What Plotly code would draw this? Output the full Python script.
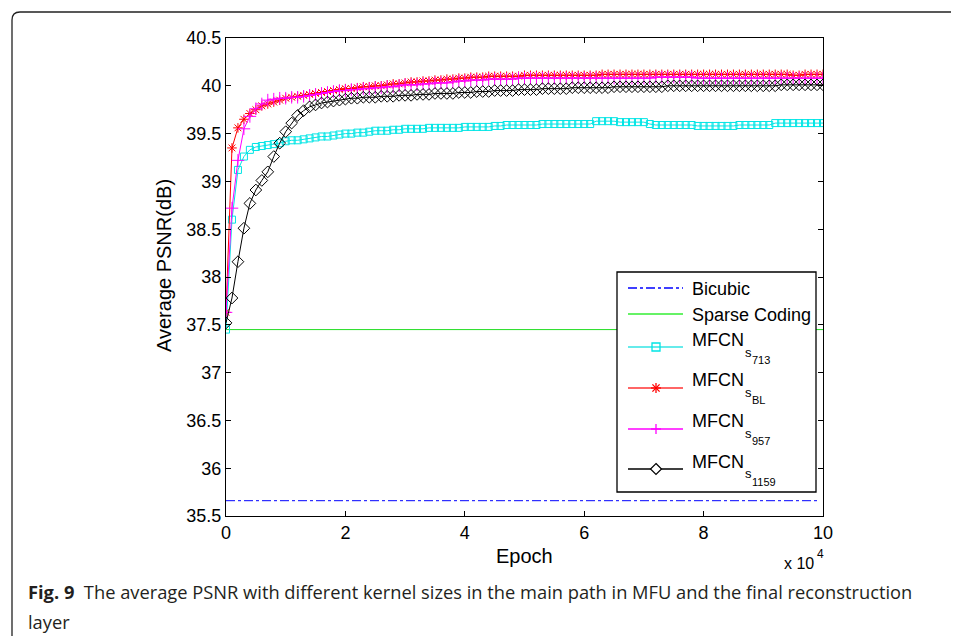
import plotly.graph_objects as go

# ---------------- data ----------------
epochs = list(range(0, 100001, 1000))

bicubic_x = [0, 99000]
bicubic_y = [35.66, 35.66]

sparse_x = [0, 100000]
sparse_y = [37.45, 37.45]

mfcn_713 = [37.45, 38.60, 39.12, 39.26, 39.33, 39.36, 39.37, 39.38, 39.39, 39.40, 39.42,
            39.43, 39.43, 39.44, 39.45, 39.46, 39.47, 39.47, 39.48, 39.49, 39.50,
            39.50, 39.51, 39.51, 39.52, 39.53, 39.53, 39.53, 39.54, 39.54, 39.55,
            39.55, 39.55, 39.55, 39.56, 39.56, 39.56, 39.56, 39.56, 39.56, 39.57,
            39.57, 39.57, 39.57, 39.57, 39.58, 39.58, 39.59, 39.59, 39.59, 39.59,
            39.59, 39.59, 39.60, 39.60, 39.60, 39.60, 39.60, 39.60, 39.60, 39.60,
            39.60, 39.63, 39.63, 39.63, 39.63, 39.62, 39.62, 39.62, 39.62, 39.62,
            39.60, 39.59, 39.59, 39.59, 39.59, 39.59, 39.59, 39.59, 39.58, 39.58,
            39.58, 39.58, 39.58, 39.58, 39.58, 39.59, 39.59, 39.59, 39.59, 39.59,
            39.59, 39.61, 39.61, 39.61, 39.61, 39.61, 39.61, 39.61, 39.61, 39.61]

mfcn_bl = [37.63, 39.35, 39.56, 39.65, 39.71, 39.75, 39.79, 39.81, 39.83, 39.85, 39.87,
           39.88, 39.89, 39.90, 39.91, 39.92, 39.93, 39.94, 39.95, 39.96, 39.97,
           39.97, 39.98, 39.99, 39.99, 40.00, 40.00, 40.01, 40.02, 40.02, 40.03,
           40.04, 40.04, 40.05, 40.05, 40.06, 40.06, 40.07, 40.07, 40.08, 40.08,
           40.09, 40.09, 40.09, 40.10, 40.10, 40.10, 40.10, 40.10, 40.10, 40.11,
           40.11, 40.11, 40.11, 40.11, 40.11, 40.11, 40.11, 40.11, 40.11, 40.11,
           40.11, 40.11, 40.12, 40.12, 40.12, 40.12, 40.12, 40.12, 40.12, 40.12,
           40.12, 40.12, 40.12, 40.12, 40.12, 40.12, 40.12, 40.12, 40.12, 40.12,
           40.12, 40.12, 40.12, 40.12, 40.12, 40.12, 40.12, 40.12, 40.12, 40.12,
           40.12, 40.12, 40.12, 40.12, 40.11, 40.11, 40.12, 40.12, 40.12, 40.12]

mfcn_957 = [37.63, 38.72, 39.22, 39.55, 39.68, 39.76, 39.81, 39.85, 39.86, 39.87, 39.87,
            39.88, 39.88, 39.89, 39.90, 39.91, 39.92, 39.93, 39.94, 39.95, 39.95,
            39.96, 39.96, 39.97, 39.97, 39.98, 39.98, 39.99, 39.99, 40.00, 40.01,
            40.01, 40.01, 40.02, 40.02, 40.03, 40.03, 40.03, 40.04, 40.05, 40.05,
            40.06, 40.06, 40.06, 40.07, 40.07, 40.07, 40.07, 40.07, 40.08, 40.08,
            40.08, 40.08, 40.08, 40.08, 40.08, 40.08, 40.08, 40.08, 40.08, 40.08,
            40.08, 40.08, 40.08, 40.08, 40.08, 40.08, 40.08, 40.08, 40.08, 40.08,
            40.08, 40.09, 40.09, 40.09, 40.09, 40.09, 40.09, 40.09, 40.08, 40.08,
            40.08, 40.08, 40.08, 40.08, 40.08, 40.08, 40.08, 40.08, 40.08, 40.08,
            40.08, 40.08, 40.08, 40.08, 40.08, 40.08, 40.08, 40.08, 40.08, 40.08]

mfcn_1159 = [37.52, 37.78, 38.16, 38.51, 38.77, 38.91, 39.01, 39.10, 39.26, 39.40, 39.52,
             39.61, 39.69, 39.74, 39.78, 39.80, 39.82, 39.83, 39.84, 39.85, 39.86,
             39.87, 39.87, 39.88, 39.88, 39.88, 39.89, 39.89, 39.89, 39.90, 39.90,
             39.90, 39.91, 39.91, 39.91, 39.92, 39.92, 39.92, 39.92, 39.93, 39.93,
             39.93, 39.94, 39.94, 39.94, 39.95, 39.95, 39.95, 39.95, 39.96, 39.96,
             39.96, 39.96, 39.97, 39.97, 39.97, 39.97, 39.97, 39.98, 39.98, 39.98,
             39.98, 39.98, 39.98, 39.98, 39.99, 39.99, 39.99, 39.99, 39.99, 39.99,
             39.99, 39.99, 39.99, 40.00, 40.00, 40.00, 40.00, 40.00, 40.00, 40.00,
             40.00, 40.00, 40.00, 40.00, 40.00, 40.00, 40.00, 40.00, 40.00, 40.00,
             40.00, 40.00, 40.01, 40.01, 40.01, 40.01, 40.01, 40.01, 40.01, 40.01]

x_tickvals = [0, 20000, 40000, 60000, 80000, 100000]
x_ticktext = ["0", "2", "4", "6", "8", "10"]
y_tickvals = [35.5, 36, 36.5, 37, 37.5, 38, 38.5, 39, 39.5, 40, 40.5]
y_ticktext = ["35.5", "36", "36.5", "37", "37.5", "38", "38.5", "39", "39.5", "40", "40.5"]

# ---------------- figure ----------------
W, H = 959, 636
OFF = 8  # page body margin of the html page
FONT = "Liberation Sans, Arial, Helvetica, sans-serif"


def px(x):
    return (x - OFF) / W


def py(y):
    return 1 - (y - OFF) / H


fig = go.Figure()

fig.add_trace(go.Scatter(x=bicubic_x, y=bicubic_y, mode="lines",
                         line=dict(color="#0000ff", width=1, dash="dashdot")))
fig.add_trace(go.Scatter(x=sparse_x, y=sparse_y, mode="lines",
                         line=dict(color="#22dd22", width=1)))
fig.add_trace(go.Scatter(x=epochs, y=mfcn_713, mode="lines+markers",
                         line=dict(color="#00e5e5", width=1),
                         marker=dict(symbol="square-open", size=7, color="#00e5e5",
                                     line=dict(width=1, color="#00e5e5"))))
fig.add_trace(go.Scatter(x=epochs, y=mfcn_bl, mode="lines+markers",
                         line=dict(color="#ff0000", width=1),
                         marker=dict(symbol="asterisk-open", size=8, color="#ff0000",
                                     line=dict(width=1, color="#ff0000"))))
fig.add_trace(go.Scatter(x=epochs, y=mfcn_957, mode="lines+markers",
                         line=dict(color="#ff00ff", width=1),
                         marker=dict(symbol="cross-thin-open", size=9, color="#ff00ff",
                                     line=dict(width=1, color="#ff00ff"))))
fig.add_trace(go.Scatter(x=epochs, y=mfcn_1159, mode="lines+markers",
                         line=dict(color="#000000", width=1),
                         marker=dict(symbol="diamond-open", size=9, color="#000000",
                                     line=dict(width=1, color="#000000"))))

axis_common = dict(showline=True, linecolor="black", linewidth=1.3, mirror="ticks",
                   ticks="inside", ticklen=5, tickwidth=1, tickcolor="black",
                   showgrid=False, zeroline=False, automargin=False,
                   tickfont=dict(family=FONT, size=18, color="black"))

fig.update_layout(
    template="none",
    width=W, height=H,
    margin=dict(l=0, r=0, t=0, b=0, pad=0, autoexpand=False),
    paper_bgcolor="white", plot_bgcolor="white",
    showlegend=False,
    xaxis=dict(domain=[px(226), px(823)], range=[0, 100000],
               tickvals=x_tickvals, ticktext=x_ticktext, **axis_common),
    yaxis=dict(domain=[py(516), py(38)], range=[35.5, 40.5],
               tickvals=y_tickvals, ticktext=y_ticktext, **axis_common),
)

shapes = []
# outer rounded frame (only top-left corner visible)
r = 8
fx, fy = 12, 12
shapes.append(dict(type="path", xref="paper", yref="paper",
                   path=(f"M {px(fx)},{py(H + 20)} L {px(fx)},{py(fy + r)} "
                         f"Q {px(fx)},{py(fy)} {px(fx + r)},{py(fy)} L {px(W + 20)},{py(fy)}"),
                   line=dict(color="#222222", width=1.3)))

# legend box
lx0, ly0, lx1, ly1 = 617, 272, 816, 492
shapes.append(dict(type="rect", xref="paper", yref="paper", layer="above",
                   x0=px(lx0), x1=px(lx1), y0=py(ly1), y1=py(ly0),
                   fillcolor="white", line=dict(color="black", width=1.3)))

rows = [
    ("#0000ff", "dashdot", 288, None),
    ("#33ee33", "solid", 314, None),
    ("#33e5e5", "solid", 347, "square"),
    ("#ff3333", "solid", 388, "asterisk"),
    ("#ff00ff", "solid", 429, "plus"),
    ("#000000", "solid", 469, "diamond"),
]
sx0, sx1, mx = 628, 683, 656
for color, dash, yy, mk in rows:
    shapes.append(dict(type="line", xref="paper", yref="paper", layer="above",
                       x0=px(sx0), x1=px(sx1), y0=py(yy), y1=py(yy),
                       line=dict(color=color, width=1.3, dash=dash)))
    if mk == "square":
        s = 4
        shapes.append(dict(type="rect", xref="paper", yref="paper", layer="above",
                           x0=px(mx - s), x1=px(mx + s), y0=py(yy + s), y1=py(yy - s),
                           line=dict(color="#00e5e5", width=1.3)))
    elif mk == "asterisk":
        s = 5
        for dx, dy in [(s, 0), (0, s), (3.6, 3.6), (3.6, -3.6)]:
            shapes.append(dict(type="line", xref="paper", yref="paper", layer="above",
                               x0=px(mx - dx), x1=px(mx + dx), y0=py(yy - dy), y1=py(yy + dy),
                               line=dict(color="#ff0000", width=1.3)))
    elif mk == "plus":
        s = 5
        for dx, dy in [(s, 0), (0, s)]:
            shapes.append(dict(type="line", xref="paper", yref="paper", layer="above",
                               x0=px(mx - dx), x1=px(mx + dx), y0=py(yy - dy), y1=py(yy + dy),
                               line=dict(color="#ff00ff", width=1.3)))
    elif mk == "diamond":
        s = 5.5
        shapes.append(dict(type="path", xref="paper", yref="paper", layer="above",
                           path=(f"M {px(mx)},{py(yy - s)} L {px(mx + s)},{py(yy)} "
                                 f"L {px(mx)},{py(yy + s)} L {px(mx - s)},{py(yy)} Z"),
                           fillcolor="white", line=dict(color="black", width=1.2)))

fig.update_layout(shapes=shapes)

ann = []


def text(x, y, t, size, xanchor="left", yanchor="middle", angle=0, family=FONT, color="black"):
    ann.append(dict(x=px(x), y=py(y), xref="paper", yref="paper", text=t, showarrow=False,
                    xanchor=xanchor, yanchor=yanchor, textangle=angle,
                    font=dict(family=family, size=size, color=color)))


tx = 690
text(tx, 289, "Bicubic", 18)
text(tx, 315, "Sparse Coding", 18)
for yy, sub in [(340, "713"), (380, "BL"), (421, "957"), (462, "1159")]:
    text(tx, yy, "MFCN", 18)
    text(743, yy + 12, "s", 13)
    text(750, yy + 20, sub, 11)

text(164, 266, "Average PSNR(dB)", 20, xanchor="center", angle=-90)
text(524, 556, "Epoch", 20, xanchor="center")
text(782, 563, "x 10", 16)
text(815, 554, "4", 12)

CAP_FONT = "Open Sans, Noto Sans, sans-serif"
text(26, 591, "<b>Fig. 9</b>  The average PSNR with different kernel sizes in the main path in MFU and the final reconstruction",
     18.3, family=CAP_FONT, color="#231f20")
text(26, 621, "layer", 18.3, family=CAP_FONT, color="#231f20")

fig.update_layout(annotations=ann)

fig.write_html("out.html")
